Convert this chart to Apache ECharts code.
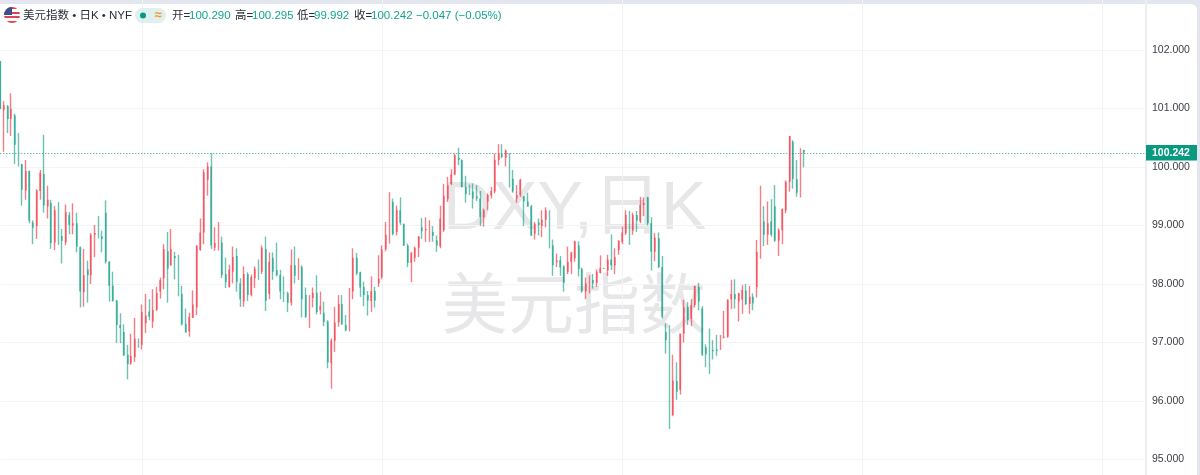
<!DOCTYPE html>
<html><head><meta charset="utf-8">
<style>
html,body{margin:0;padding:0;width:1200px;height:475px;overflow:hidden;background:#e3e6ee}
#panel{position:absolute;left:0;top:4px;width:1197px;height:480px;background:#fff;border-top-right-radius:6px}
#chart{position:absolute;left:0;top:0;width:1200px;height:475px}
</style>
<script src="https://cdn.jsdelivr.net/npm/echarts@6/dist/echarts.min.js"></script>
</head><body><div id="panel"></div><div id="chart"></div>
<script>
const opens=[101.81,100.97,101.04,100.82,100.88,100.36,100.05,99.60,99.93,99.05,
98.99,99.59,99.88,99.33,99.39,98.71,99.25,98.82,98.71,99.18,
99.00,99.04,98.63,97.86,98.25,98.15,98.84,98.88,98.81,99.22,
98.38,97.97,97.72,97.30,97.18,96.79,96.64,96.75,97.00,96.96,
97.33,97.53,97.36,97.56,97.87,98.10,98.56,98.32,98.48,98.39,
97.83,97.32,97.19,97.42,97.60,98.58,98.88,99.78,100.01,98.62,
98.59,98.71,98.17,97.95,98.21,98.48,98.01,97.70,98.17,97.81,
98.10,98.30,98.21,98.60,97.83,98.45,98.24,98.16,97.85,97.84,
97.68,98.32,98.14,98.29,97.81,97.44,97.76,97.85,97.55,97.51,
97.36,96.65,97.03,97.34,97.66,97.30,97.22,97.87,98.45,98.20,
97.95,97.81,97.71,97.88,98.01,98.12,98.60,98.85,99.40,98.89,
99.26,99.03,98.66,98.36,98.45,98.62,98.97,98.92,98.93,98.89,
98.75,98.64,98.92,99.45,99.71,99.87,100.16,100.12,99.66,99.67,
99.58,99.50,99.46,99.14,99.41,99.51,99.58,100.12,100.22,100.16,
100.19,99.80,99.46,99.52,99.50,99.41,99.33,98.86,99.05,98.99,
99.10,99.25,98.66,98.37,98.41,98.30,98.21,98.38,98.44,98.66,
98.26,97.87,98.00,98.07,98.02,98.19,98.27,98.23,98.42,98.32,
98.58,98.72,98.87,99.18,98.91,99.18,99.07,99.35,99.48,99.04,
98.55,98.78,98.29,97.18,97.06,95.76,96.34,96.19,97.15,97.61,
97.40,97.64,97.95,97.58,96.92,96.88,96.87,96.88,96.88,97.08,
97.10,97.74,97.83,97.70,97.73,97.89,97.66,97.78,97.95,98.57,
99.07,98.84,99.07,99.33,98.74,98.92,99.26,99.75,100.43,99.79,
99.58,100.290];
const highs=[101.81,101.13,101.06,101.26,100.91,100.58,100.05,100.12,99.94,99.09,
99.62,99.95,100.55,99.68,99.44,99.33,99.40,98.94,99.36,99.23,
99.38,99.22,98.64,98.60,98.40,98.87,99.01,99.16,98.91,99.43,
98.39,98.21,97.73,97.50,97.31,96.96,97.15,97.42,97.07,97.65,
97.83,97.74,97.91,97.95,98.11,98.68,98.89,98.94,98.55,98.50,
97.97,97.58,97.51,97.89,98.66,99.12,99.96,100.08,100.24,98.97,
99.06,98.81,98.45,98.33,98.64,98.61,98.10,98.30,98.20,98.16,
98.30,98.42,98.66,98.81,98.54,98.54,98.71,98.24,98.13,97.87,
98.59,98.64,98.44,98.32,97.94,97.81,97.94,98.15,97.87,97.70,
97.38,97.07,97.61,97.81,97.81,97.47,97.93,98.61,98.53,98.21,
98.04,97.88,98.13,97.95,98.49,98.66,99.06,99.57,99.46,99.34,
99.48,99.03,98.69,98.55,98.64,98.82,99.13,99.14,99.09,98.99,
98.83,99.34,99.71,99.83,99.96,100.23,100.33,100.13,99.85,99.70,
99.72,99.69,99.59,99.29,99.55,99.66,100.23,100.39,100.39,100.30,
100.24,99.95,99.69,99.80,99.50,99.56,99.35,99.06,99.12,99.26,
99.31,99.26,98.76,98.52,98.48,98.32,98.64,98.55,98.74,98.73,
98.28,98.11,98.15,98.17,98.25,98.49,98.28,98.50,98.85,98.61,
98.75,98.98,99.26,99.25,99.22,99.25,99.49,99.48,99.49,99.14,
98.87,98.88,98.48,97.33,97.29,96.79,96.66,97.15,97.73,97.69,
97.74,97.97,98.02,97.62,96.97,97.24,97.04,97.13,97.13,97.54,
97.74,98.07,98.08,97.85,97.98,98.00,97.97,97.84,98.75,99.68,
99.33,99.41,99.45,99.69,98.95,99.29,99.77,100.53,100.46,100.12,
100.32,100.295];
const lows=[100.99,100.26,100.58,100.53,100.05,100.01,99.34,99.44,99.04,98.68,
98.77,99.44,99.22,99.12,98.60,98.58,98.67,98.35,98.66,98.85,
98.85,98.54,97.60,97.61,97.68,98.00,98.46,98.78,98.54,98.35,
97.70,97.70,96.99,96.99,96.77,96.37,96.62,96.67,96.91,96.88,
97.16,97.38,97.25,97.54,97.75,97.91,97.68,98.31,98.08,97.79,
97.29,97.17,97.10,97.42,97.47,98.57,98.68,99.51,98.60,98.57,
98.57,98.10,97.93,97.94,98.01,97.87,97.61,97.61,97.71,97.79,
97.93,98.07,98.17,97.54,97.74,98.07,98.13,97.74,97.69,97.52,
97.63,98.01,98.07,97.43,97.42,97.25,97.60,97.48,97.48,97.28,
96.56,96.21,96.84,97.27,97.30,97.19,97.19,97.74,98.15,97.78,
97.62,97.46,97.52,97.60,97.95,98.08,98.56,98.69,98.83,98.83,
99.01,98.65,98.29,98.03,98.38,98.46,98.77,98.72,98.72,98.72,
98.55,98.61,98.89,99.40,99.69,99.86,100.03,99.65,99.39,99.52,
99.29,99.42,98.99,98.98,99.26,99.46,99.55,100.03,100.15,100.01,
99.65,99.56,99.39,99.49,98.99,99.32,98.82,98.76,98.83,98.80,
98.97,98.61,98.14,98.29,98.14,97.87,98.17,98.17,98.38,98.13,
97.85,97.74,97.84,97.92,97.95,98.18,98.26,98.14,98.24,98.17,
98.50,98.68,98.84,98.67,98.84,98.89,99.04,99.16,99.00,98.23,
98.39,98.27,97.41,96.81,95.52,95.74,96.02,96.11,97.00,97.30,
97.28,97.60,97.55,96.77,96.58,96.46,96.71,96.77,96.87,97.07,
97.08,97.57,97.58,97.36,97.49,97.64,97.49,97.55,97.77,98.43,
98.65,98.67,98.81,98.72,98.48,98.68,99.21,99.58,99.63,99.49,
99.48,99.992];
const closes=[100.99,101.06,100.82,100.99,100.38,100.02,99.61,99.93,99.08,98.96,
99.60,99.90,99.34,99.44,98.70,99.26,98.82,98.74,99.23,99.01,
99.04,98.64,97.87,98.15,98.15,98.84,98.87,98.79,98.77,98.38,
97.97,97.71,97.30,97.25,96.78,96.63,96.77,97.07,96.97,97.52,
97.46,97.44,97.56,97.84,98.07,98.60,98.26,98.60,98.44,97.81,
97.31,97.17,97.44,97.65,98.66,98.88,99.91,100.01,98.66,98.70,
98.71,98.15,98.03,98.25,98.46,98.04,97.74,98.17,97.81,98.12,
98.26,98.21,98.62,97.71,98.38,98.21,98.15,97.87,97.84,97.68,
98.32,98.14,98.29,97.74,97.44,97.77,97.85,97.52,97.62,97.35,
96.66,97.04,97.34,97.66,97.31,97.21,97.85,98.45,98.18,97.94,
97.81,97.72,97.88,97.72,98.09,98.59,98.84,99.39,98.85,99.26,
99.05,98.66,98.36,98.53,98.62,98.81,98.90,98.94,98.94,98.82,
98.66,99.12,99.51,99.69,99.87,100.20,100.12,99.66,99.54,99.59,
99.46,99.46,99.15,99.26,99.52,99.59,100.12,100.23,100.17,100.28,
99.82,99.58,99.52,99.78,99.41,99.33,98.83,99.03,99.01,99.10,
99.26,98.75,98.32,98.40,98.28,98.02,98.38,98.54,98.73,98.26,
97.87,98.01,98.07,98.01,98.21,98.27,98.26,98.42,98.32,98.46,
98.74,98.88,99.18,98.89,99.18,99.08,99.35,99.38,99.04,98.55,
98.79,98.29,97.44,97.04,95.76,96.35,96.16,97.15,97.60,97.38,
97.64,97.97,97.70,96.79,96.80,96.85,96.85,96.86,97.05,97.10,
97.73,97.83,97.74,97.84,97.90,97.66,97.78,97.67,98.55,99.07,
98.84,99.04,98.84,98.74,98.92,99.28,99.75,100.53,99.79,99.56,
100.30,100.242];
const lastPrice=100.242;
const priceTitle='美元指数 • 日K • NYF';
const quoteLabels=['开=','高=','低=','收='];
const quoteValues=['100.290','100.295','99.992','100.242'];
const quoteChange='−0.047 (−0.05%)';
const watermarkLines=['DXY,日K','美元指数'];
const slots=316;
const categories=Array.from({length:slots},(_,i)=>String(i));
const candles=opens.map((o,i)=>[o,closes[i],lows[i],highs[i]]);
const bodies=opens.map((o,i)=>[o,closes[i],Math.min(o,closes[i]),Math.max(o,closes[i])]);
const UP='#F23645',DOWN='#089981';
const FONT='"Liberation Sans","Noto Sans CJK SC",sans-serif';

const chart=echarts.init(document.getElementById('chart'),null,{renderer:'canvas'});
function txt(x,y,text,fill,size,extra){
  return Object.assign({type:'text',x:x,y:y,silent:true,z:10,
    style:Object.assign({text:text,fill:fill,font:(size||12)+'px '+FONT,verticalAlign:'middle'},extra||{})});
}
const stripes=[];
for(let i=0;i<7;i++){
  const c=i%2?'#ffffff':'#e0424f';
  stripes.push({offset:i/7,color:c},{offset:(i+1)/7,color:c});
}
const quoteX=[[172,184],[235,247],[297,309],[354,366]];
const header=[
  {type:'circle',shape:{cx:12,cy:15,r:8},silent:true,z:10,style:{fill:{type:'linear',x:0,y:0,x2:0,y2:1,colorStops:stripes}}},
  {type:'sector',shape:{cx:12,cy:15,r:8,r0:0,startAngle:Math.PI,endAngle:Math.PI*1.5},silent:true,z:11,style:{fill:'#3d4f8f'}},
  txt(23,15.5,priceTitle,'#2a2e39',11.5),
  {type:'rect',shape:{x:135,y:8,width:31,height:15,r:7.5},silent:true,z:10,style:{fill:'#dff1ee'}},
  {type:'circle',shape:{cx:143,cy:15.5,r:3},silent:true,z:11,style:{fill:'#089981'}},
  txt(158,15,'≈','#f7931a',13,{align:'center',font:'bold 13px '+FONT}),
  txt(416,15.5,quoteChange,'#12a58c',11.5)
];
quoteLabels.forEach((l,i)=>{
  header.push(txt(quoteX[i][0],15.5,l,'#2a2e39',11.5));
  header.push(txt(quoteX[i][1]+5,15.5,quoteValues[i],'#12a58c',11.5));
});
const watermark=[
  {type:'text',x:443,y:210,silent:true,z:0,style:{text:watermarkLines[0],fill:'#e7e7e9',font:'68px '+FONT,verticalAlign:'middle'}},
  {type:'text',x:442,y:310,silent:true,z:0,style:{text:watermarkLines[1],fill:'#e7e7e9',font:'66px '+FONT,verticalAlign:'middle'}}
];
const vGrid=new Set([39,105,171,237,303]);
chart.setOption({
  animation:false,
  backgroundColor:'transparent',
  textStyle:{fontFamily:FONT},
  grid:{left:0.3,right:54,top:-8.5,height:526.5,containLabel:false,outerBoundsMode:'none'},
  xAxis:{type:'category',data:categories,boundaryGap:false,
    axisLine:{show:false},axisTick:{show:false},axisLabel:{show:false},
    splitLine:{show:true,interval:(i)=>vGrid.has(i),lineStyle:{color:'#f3f4f6',width:1}}},
  yAxis:{type:'value',position:'right',min:94,max:103,interval:1,scale:true,
    axisLine:{show:true,lineStyle:{color:'#eceef4',width:2}},axisTick:{show:false},
    axisLabel:{color:'#3a3d45',fontSize:10.5,margin:6,padding:[4,0,0,0],formatter:v=>v.toFixed(3)},
    splitLine:{show:true,lineStyle:{color:'#f3f4f6',width:1}}},
  graphic:{elements:watermark.concat(header)},
  series:[{
    type:'candlestick',name:'美元指数',data:candles,barWidth:0.5,z:5,
    itemStyle:{color:'rgba(242,54,69,0.65)',color0:'rgba(8,153,129,0.6)',borderColor:'rgba(242,54,69,0.65)',borderColor0:'rgba(8,153,129,0.6)',borderWidth:1.4},
    markLine:{silent:true,symbol:'none',animation:false,precision:3,
      lineStyle:{type:[1,2],color:'#1aa58e',width:1.2},
      label:{position:'end',distance:0,formatter:()=>lastPrice.toFixed(3),color:'#fff',fontSize:10.5,fontWeight:'bold',
        backgroundColor:'#089981',padding:[3,6,2,6],width:39,align:'left'},
      data:[{yAxis:lastPrice}]}
  },{
    type:'candlestick',name:'实体',data:bodies,barWidth:1.4,z:6,
    itemStyle:{color:UP,color0:DOWN,borderColor:UP,borderColor0:DOWN,borderWidth:0}
  }]
});
</script></body></html>
